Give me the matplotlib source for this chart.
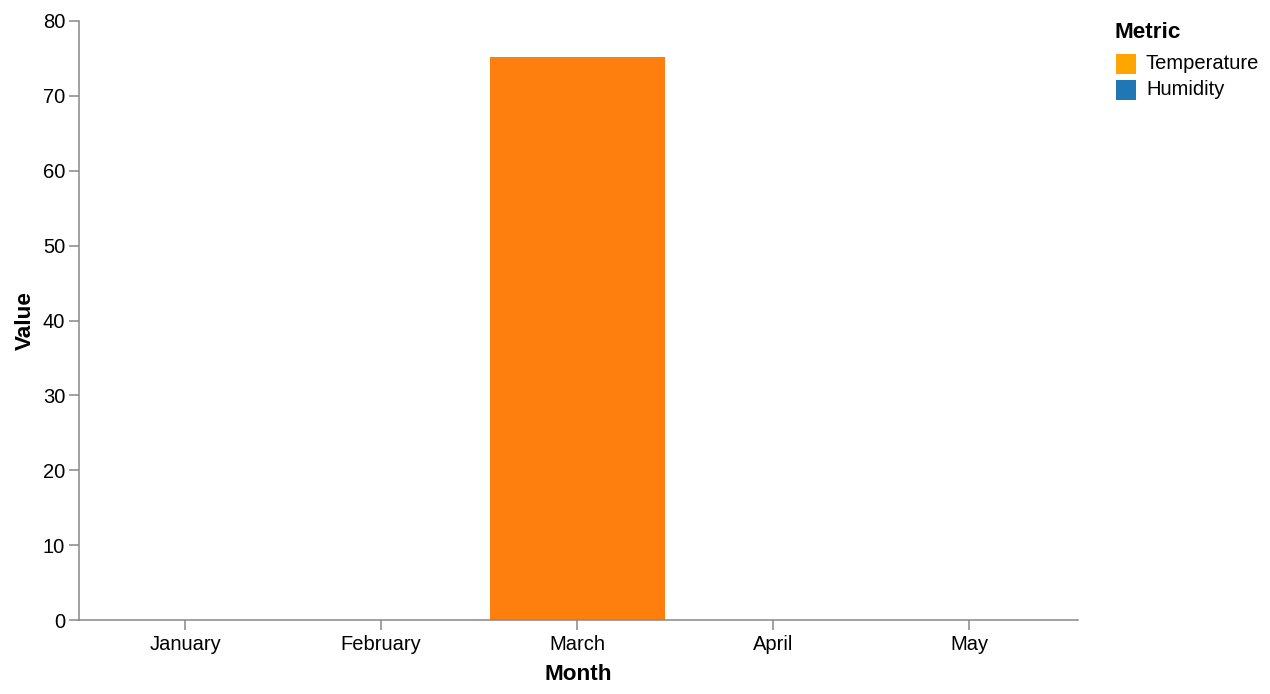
import matplotlib
matplotlib.use("Agg")
import matplotlib.pyplot as plt
from matplotlib.patches import Rectangle
import numpy as np

months = ["January", "February", "March", "April", "May"]
temperature = [np.nan, np.nan, 75.2, np.nan, np.nan]
humidity = [np.nan, np.nan, np.nan, np.nan, np.nan]
metrics = ["Temperature", "Humidity"]
legend_colors = ["#FFA500", "#1F77B4"]
bar_color = "#FF7F0E"
y_ticks = [0, 10, 20, 30, 40, 50, 60, 70, 80]

plt.rcParams['font.family'] = ['Liberation Sans', 'DejaVu Sans']
W, H = 1270, 694
fig = plt.figure(figsize=(W / 100, H / 100), dpi=100)
x0, x1, ytop, ybot = 79, 1078, 21, 620
ax = fig.add_axes([x0 / W, 1 - ybot / H, (x1 - x0) / W, (ybot - ytop) / H])

x = np.arange(len(months))
ax.bar(x, temperature, width=0.893, color=bar_color, zorder=2)
ax.bar(x, humidity, width=0.893, color=legend_colors[1], zorder=2)

ax.set_xlim(-0.541, 4.556)
ax.set_ylim(0, 80)
ax.set_yticks(y_ticks)
ax.set_xticks(x)
ax.set_xticklabels(months)

axis_color = "#888888"
for s in ["top", "right"]:
    ax.spines[s].set_visible(False)
for s in ["left", "bottom"]:
    ax.spines[s].set_color(axis_color)
    ax.spines[s].set_linewidth(1.1)
ax.tick_params(axis="both", colors=axis_color, length=7, width=1.1,
               labelsize=14.5, labelcolor="black")
ax.tick_params(axis="y", pad=3)
ax.tick_params(axis="x", pad=4)

ax.set_xlabel("Month", fontsize=16.2, fontweight="bold", labelpad=7)
ax.set_ylabel("Value", fontsize=16.2, fontweight="bold", labelpad=5)

# legend (drawn in figure pixel coordinates)
def fx(px):
    return px / W
def fy(py):
    return 1 - py / H

fig.text(fx(1114), fy(32), "Metric", fontsize=16.2, fontweight="bold",
         ha="left", va="center")
for i, (m, c) in enumerate(zip(metrics, legend_colors)):
    yc = 63.5 + 26 * i
    fig.patches.append(Rectangle((fx(1116), fy(yc + 10)), 20 / W, 20 / H,
                                 transform=fig.transFigure, facecolor=c,
                                 edgecolor="none"))
    fig.text(fx(1146), fy(yc), m, fontsize=14.5, ha="left", va="center")

fig.savefig("out.png", dpi=100)
